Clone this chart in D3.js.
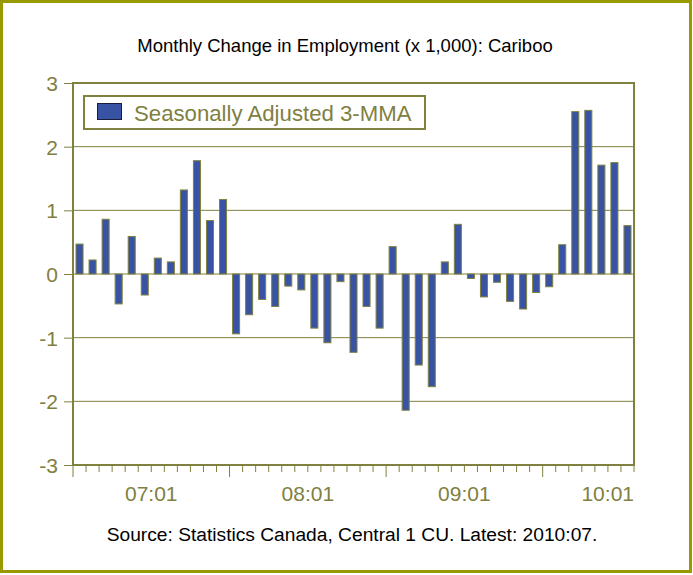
<!DOCTYPE html>
<html>
<head>
<meta charset="utf-8">
<script src="https://cdn.jsdelivr.net/npm/d3@7"></script>
<style>
  html, body { margin: 0; padding: 0; background: #fff; }
  svg { display: block; font-family: "Liberation Sans", Arial, sans-serif; }
</style>
</head>
<body>
<svg id="chart" width="693" height="575"></svg>
<script>
// chart data
var title = 'Monthly Change in Employment (x 1,000): Cariboo'
var source = 'Source: Statistics Canada, Central 1 CU. Latest: 2010:07.'
var seriesName = 'Seasonally Adjusted 3-MMA'
var firstMonth = new Date(2007, 0, 1)
var lastMonth = new Date(2010, 6, 1)
var values = [
  0.47, 0.22, 0.86, -0.47, 0.59, -0.33, 0.25, 0.19, 1.32, 1.78, 0.84, 1.17,
  -0.94, -0.64, -0.40, -0.51, -0.19, -0.25, -0.85, -1.08, -0.12, -1.23, -0.51, -0.85,
  0.43, -2.14, -1.43, -1.77, 0.19, 0.78, -0.07, -0.36, -0.13, -0.43, -0.55, -0.29,
  -0.20, 0.46, 2.55, 2.57, 1.71, 1.75, 0.76
]
var yTicks = [-3, -2, -1, 0, 1, 2, 3]

// colours
var olive = '#80803f'
var frame = '#999900'
var barFill = '#3953a4'

var months = d3.timeMonth.range(firstMonth, d3.timeMonth.offset(lastMonth, 1))
var fmt = d3.timeFormat('%y:%m')

var svg = d3.select('#chart')
var plotL = 73, plotR = 634, plotT = 83, plotB = 465

var x = d3.scaleBand()
  .domain(months.map(fmt))
  .range([plotL, plotR])
  .paddingInner(0.46)
  .paddingOuter(0.23)

var y = d3.scaleLinear().domain([-3, 3]).range([plotB, plotT])

// outer frame
svg.append('rect')
  .attr('x', 1.5).attr('y', 1.5)
  .attr('width', 689).attr('height', 570)
  .attr('fill', '#fff')
  .attr('stroke', frame)
  .attr('stroke-width', 3)

// title and source
svg.append('text')
  .attr('x', 345).attr('y', 52)
  .attr('text-anchor', 'middle')
  .attr('font-size', 18.5)
  .attr('fill', '#000')
  .text(title)

svg.append('text')
  .attr('x', 352).attr('y', 541)
  .attr('text-anchor', 'middle')
  .attr('font-size', 19.2)
  .attr('fill', '#000')
  .text(source)

// gridlines
svg.append('g')
  .selectAll('line')
  .data(yTicks.filter(function(d) { return d > -3 && d < 3 }))
  .enter().append('line')
    .attr('x1', plotL).attr('x2', plotR)
    .attr('y1', function(d) { return y(d) })
    .attr('y2', function(d) { return y(d) })
    .attr('stroke', olive)
    .attr('stroke-width', 1)

// y axis (plain hyphen for negatives, like the original)
var yAxis = d3.axisLeft(y)
  .tickValues(yTicks)
  .tickSize(9)
  .tickPadding(6)
  .tickFormat(function(d) { return String(d) })

var gy = svg.append('g')
  .attr('transform', 'translate(' + plotL + ',0)')
  .call(yAxis)
gy.select('.domain').remove()
gy.selectAll('line').attr('stroke', olive)
gy.selectAll('text')
  .attr('fill', olive)
  .attr('font-size', 21)
  .attr('font-family', '"Liberation Sans", Arial, sans-serif')
  .attr('dy', '0.36em')

// x axis ticks: one per month boundary, longer at each January
var step = x.step()
var x0 = x.range()[0]
var boundaries = d3.range(months.length + 1)
svg.append('g')
  .selectAll('line')
  .data(boundaries)
  .enter().append('line')
    .attr('x1', function(i) { return x0 + i * step })
    .attr('x2', function(i) { return x0 + i * step })
    .attr('y1', plotB)
    .attr('y2', function(i) { return plotB + ((i < months.length && months[i].getMonth() === 0) ? 12 : 7) })
    .attr('stroke', olive)
    .attr('stroke-width', 1)

// year labels, centred on each year, kept inside the plot
var janIdx = months.map(function(m, i) { return m.getMonth() === 0 ? i : -1 })
  .filter(function(i) { return i >= 0 })
var xLabels = svg.append('g')
  .selectAll('text')
  .data(janIdx)
  .enter().append('text')
    .attr('y', 501)
    .attr('text-anchor', 'middle')
    .attr('font-size', 21)
    .attr('fill', olive)
    .text(function(i) { return fmt(months[i]) })
xLabels.attr('x', function(i) {
  var half = this.getComputedTextLength() / 2
  return Math.min(x0 + (i + 6) * step, plotR - half)
})

// bars
svg.append('g')
  .selectAll('rect')
  .data(values)
  .enter().append('rect')
    .attr('x', function(d, i) { return x(fmt(months[i])) })
    .attr('width', x.bandwidth())
    .attr('y', function(d) { return y(Math.max(0, d)) })
    .attr('height', function(d) { return Math.abs(y(d) - y(0)) })
    .attr('fill', barFill)
    .attr('stroke', olive)
    .attr('stroke-width', 1)

// plot border
svg.append('rect')
  .attr('x', plotL).attr('y', plotT)
  .attr('width', plotR - plotL).attr('height', plotB - plotT)
  .attr('fill', 'none')
  .attr('stroke', olive)
  .attr('stroke-width', 2)

// legend
var legend = svg.append('g')
legend.append('rect')
  .attr('x', 84).attr('y', 96)
  .attr('width', 341).attr('height', 33)
  .attr('fill', '#fff')
  .attr('stroke', olive)
  .attr('stroke-width', 2)
legend.append('rect')
  .attr('x', 97.5).attr('y', 103.5)
  .attr('width', 24).attr('height', 16)
  .attr('fill', barFill)
  .attr('stroke', '#1c1c3c')
  .attr('stroke-width', 1)
legend.append('text')
  .attr('x', 134).attr('y', 121)
  .attr('font-size', 22.2)
  .attr('fill', olive)
  .text(seriesName)
</script>
</body>
</html>
